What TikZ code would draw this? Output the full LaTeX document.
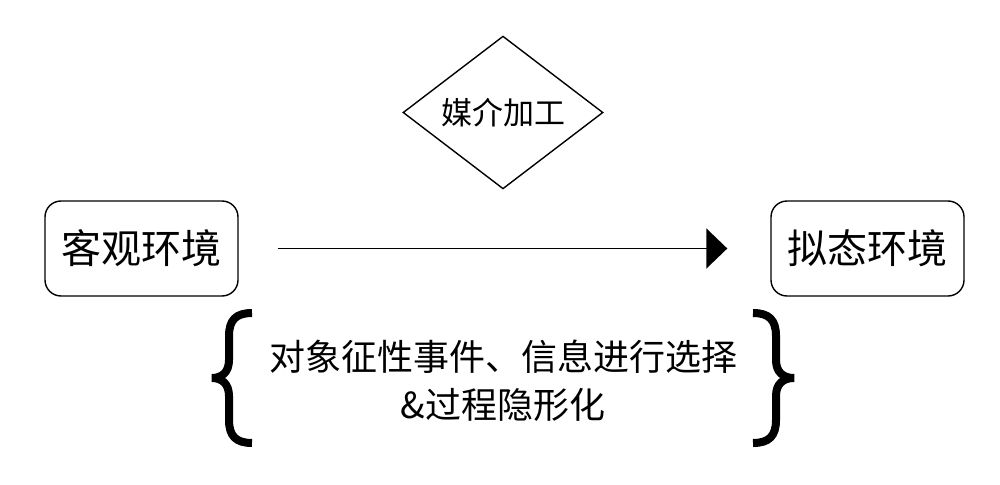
\documentclass[tikz,border=0pt]{standalone}
\usepackage{fontspec}
\setmainfont{Noto Sans CJK SC}
\usetikzlibrary{shapes.geometric,arrows.meta}

\tikzset{
	envbox/.style={draw, line width=1.4pt, rounded corners=16pt, minimum width=193pt, minimum height=95pt, inner sep=0pt, font=\fontsize{40}{44}\selectfont},
	medium/.style={draw, diamond, line width=1.4pt, inner sep=0pt, minimum width=200pt, minimum height=151pt, font=\fontsize{31}{34}\selectfont},
	flowarrow/.style={line width=1.8pt, -{Triangle[length=21pt, width=40pt]}},
	bracket/.style={line width=8pt, line join=miter}
}

\begin{document}
\begin{tikzpicture}[x=1pt, y=-1pt]
		
		\useasboundingbox (0,0) rectangle (1000,484);
		
		\node[envbox] (objective) at (141.5,248.5) {客观环境};
		\node[envbox] (pseudo) at (867.5,248.5) {拟态环境};
		\node[medium] (media) at (503,112.5) {媒介加工};
		
		\draw[flowarrow, shorten <=39pt, shorten >=43pt] (objective.east) -- (pseudo.west);
		
		\node[align=center, font=\fontsize{36}{48}\selectfont] (select) at (503,381) {对象征性事件、信息进行选择\\\&过程隐形化};
		
		
		\draw[bracket] (252,313) .. controls (236,313) and (229,320) .. (229,336) -- (229,360) .. controls (229,372) and (222,378) .. (212,378) .. controls (222,378) and (229,384) .. (229,396) -- (229,420) .. controls (229,436) and (236,443) .. (252,443);
		\draw[bracket] (753,313) .. controls (769,313) and (776,320) .. (776,336) -- (776,360) .. controls (776,372) and (783,378) .. (794,378) .. controls (783,378) and (776,384) .. (776,396) -- (776,420) .. controls (776,436) and (769,443) .. (753,443);
		
	\end{tikzpicture}
\end{document}
